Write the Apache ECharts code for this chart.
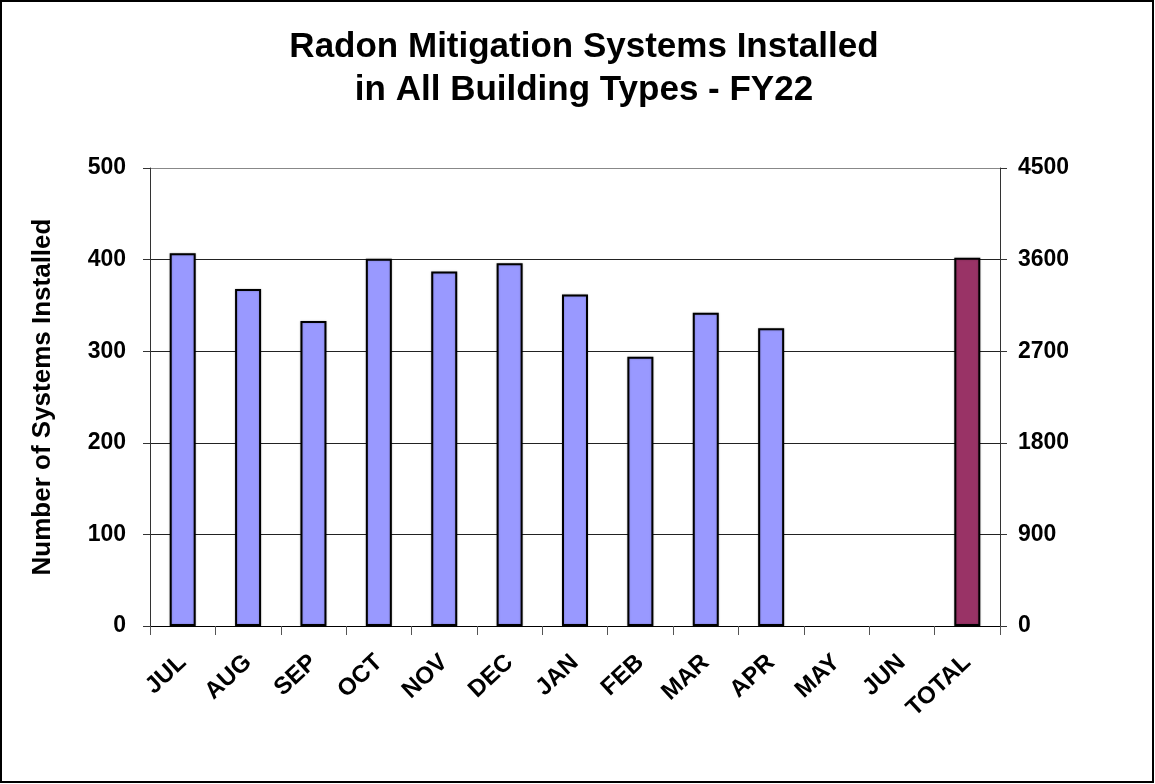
<!DOCTYPE html>
<html>
<head>
<meta charset="utf-8">
<script src="https://cdn.jsdelivr.net/npm/echarts@6/dist/echarts.min.js"></script>
<style>
  html, body { margin: 0; padding: 0; background: #fff; }
  #chart { width: 1155px; height: 784px; }
</style>
</head>
<body>
<div id="chart"></div>
<script>
// Categories and values
const months = ['JUL', 'AUG', 'SEP', 'OCT', 'NOV', 'DEC', 'JAN', 'FEB', 'MAR', 'APR', 'MAY', 'JUN', 'TOTAL'];
const monthlyInstalls = [407, 368, 333, 401, 387, 396, 362, 294, 342, 325, null, null, null];
const totalInstalls = [null, null, null, null, null, null, null, null, null, null, null, null, 3617];
const leftTicks = [0, 100, 200, 300, 400, 500];
const rightTicks = [0, 900, 1800, 2700, 3600, 4500];

const font = '"Liberation Sans", Arial, sans-serif';

const chart = echarts.init(document.getElementById('chart'));

const option = {
  backgroundColor: '#fff',
  animation: false,
  title: {
    text: 'Radon Mitigation Systems Installed\nin All Building Types - FY22',
    left: 579,
    textAlign: 'center',
    top: 21,
    textStyle: {
      fontFamily: font,
      fontSize: 35,
      fontWeight: 'bold',
      color: '#000',
      lineHeight: 43
    }
  },
  graphic: [
    {
      type: 'rect',
      shape: { x: 1, y: 1, width: 1152, height: 781 },
      style: { fill: 'none', stroke: '#000', lineWidth: 2 },
      silent: true
    }
  ],
  grid: {
    left: 150,
    right: 155,
    top: 168,
    bottom: 158
  },
  xAxis: {
    type: 'category',
    data: months,
    boundaryGap: true,
    axisLine: { lineStyle: { color: '#000', width: 1 } },
    axisTick: { show: true, length: 9, lineStyle: { color: '#555' }, alignWithLabel: false },
    axisLabel: {
      rotate: 43,
      interval: 0,
      margin: 33,
      fontFamily: font,
      fontSize: 24,
      fontWeight: 'bold',
      color: '#000'
    }
  },
  yAxis: [
    {
      type: 'value',
      min: leftTicks[0],
      max: leftTicks[leftTicks.length - 1],
      interval: 100,
      name: 'Number of Systems Installed',
      nameLocation: 'middle',
      nameGap: 94,
      nameTextStyle: {
        fontFamily: font,
        fontSize: 26,
        fontWeight: 'bold',
        color: '#000'
      },
      axisLine: { show: true, lineStyle: { color: '#333' } },
      axisTick: { show: true, length: 7, lineStyle: { color: '#333' } },
      axisLabel: {
        margin: 24,
        fontFamily: font,
        fontSize: 23,
        fontWeight: 'bold',
        color: '#000'
      },
      splitLine: {
        show: true,
        lineStyle: { color: ['#000', '#222', '#222', '#222', '#222', '#888'], width: 1 }
      }
    },
    {
      type: 'value',
      min: rightTicks[0],
      max: rightTicks[rightTicks.length - 1],
      interval: 900,
      position: 'right',
      axisLine: { show: true, lineStyle: { color: '#333' } },
      axisTick: { show: true, length: 7, lineStyle: { color: '#333' } },
      axisLabel: {
        margin: 18,
        fontFamily: font,
        fontSize: 23,
        fontWeight: 'bold',
        color: '#000',
        formatter: v => String(v)
      },
      splitLine: { show: false }
    }
  ],
  series: [
    {
      name: 'Monthly',
      type: 'bar',
      yAxisIndex: 0,
      barWidth: 26,
      barGap: '-100%',
      data: monthlyInstalls,
      itemStyle: {
        color: '#9999FF',
        borderColor: '#000',
        borderWidth: 2,
        shadowColor: 'rgba(0,0,0,0.25)',
        shadowBlur: 2
      }
    },
    {
      name: 'Total',
      type: 'bar',
      yAxisIndex: 1,
      barWidth: 26,
      barGap: '-100%',
      data: totalInstalls,
      itemStyle: {
        color: '#993366',
        borderColor: '#000',
        borderWidth: 2,
        shadowColor: 'rgba(0,0,0,0.25)',
        shadowBlur: 2
      }
    }
  ]
};

chart.setOption(option);
</script>
</body>
</html>
